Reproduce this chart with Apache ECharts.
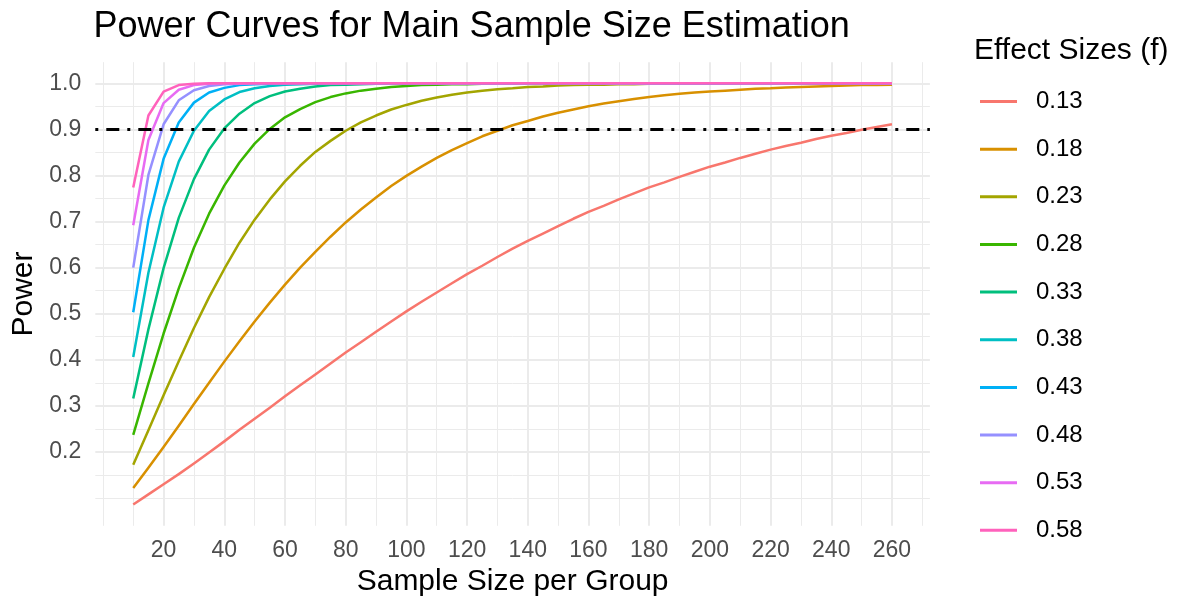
<!DOCTYPE html>
<html>
<head>
<meta charset="utf-8">
<script src="https://cdn.jsdelivr.net/npm/echarts@6/dist/echarts.min.js"></script>
<style>
html,body{margin:0;padding:0;background:#ffffff;}
#chart{width:1182px;height:604px;}
</style>
</head>
<body>
<div id="chart"></div>
<script>
// ---------------- data ----------------
const sampleSizes = [10,15,20,25,30,35,40,45,50,55,60,65,70,75,80,85,90,95,100,105,110,115,120,125,130,135,140,145,150,155,160,165,170,175,180,185,190,195,200,205,210,215,220,225,230,235,240,245,250,255,260];

const effectSizes = ['0.13','0.18','0.23','0.28','0.33','0.38','0.43','0.48','0.53','0.58'];

const power_013 = [0.086,0.108,0.130,0.152,0.175,0.199,0.223,0.248,0.272,0.296,0.321,0.345,0.368,0.392,0.416,0.438,0.461,0.483,0.505,0.526,0.546,0.566,0.586,0.604,0.623,0.641,0.658,0.674,0.690,0.706,0.721,0.734,0.748,0.761,0.774,0.785,0.797,0.808,0.819,0.828,0.838,0.847,0.856,0.864,0.871,0.879,0.886,0.892,0.899,0.905,0.911];
const power_018 = [0.122,0.166,0.211,0.257,0.304,0.350,0.396,0.440,0.483,0.524,0.563,0.600,0.634,0.667,0.698,0.726,0.752,0.777,0.799,0.819,0.838,0.855,0.870,0.885,0.897,0.909,0.918,0.928,0.936,0.943,0.950,0.956,0.961,0.966,0.970,0.974,0.977,0.980,0.982,0.984,0.986,0.988,0.989,0.991,0.992,0.993,0.994,0.995,0.996,0.996,0.997];
const power_023 = [0.172,0.247,0.323,0.397,0.469,0.536,0.597,0.654,0.704,0.748,0.787,0.821,0.851,0.875,0.897,0.915,0.930,0.943,0.953,0.962,0.969,0.975,0.980,0.984,0.987,0.989,0.992,0.993,0.995,0.996,0.997,0.997,0.998,0.998,0.999,0.999,0.999,0.999,1.000,1.000,1.000,1.000,1.000,1.000,1.000,1.000,1.000,1.000,1.000,1.000,1.000];
const power_028 = [0.237,0.349,0.457,0.555,0.643,0.717,0.778,0.828,0.869,0.901,0.926,0.944,0.959,0.970,0.978,0.984,0.988,0.992,0.994,0.996,0.997,0.998,0.998,0.999,0.999,0.999,1.000,1.000,1.000,1.000,1.000,1.000,1.000,1.000,1.000,1.000,1.000,1.000,1.000,1.000,1.000,1.000,1.000,1.000,1.000,1.000,1.000,1.000,1.000,1.000,1.000];
const power_033 = [0.316,0.466,0.599,0.708,0.792,0.856,0.902,0.934,0.957,0.972,0.982,0.988,0.993,0.996,0.997,0.998,0.999,0.999,1.000,1.000,1.000,1.000,1.000,1.000,1.000,1.000,1.000,1.000,1.000,1.000,1.000,1.000,1.000,1.000,1.000,1.000,1.000,1.000,1.000,1.000,1.000,1.000,1.000,1.000,1.000,1.000,1.000,1.000,1.000,1.000,1.000];
const power_038 = [0.406,0.589,0.730,0.830,0.897,0.940,0.965,0.981,0.989,0.994,0.997,0.998,0.999,1.000,1.000,1.000,1.000,1.000,1.000,1.000,1.000,1.000,1.000,1.000,1.000,1.000,1.000,1.000,1.000,1.000,1.000,1.000,1.000,1.000,1.000,1.000,1.000,1.000,1.000,1.000,1.000,1.000,1.000,1.000,1.000,1.000,1.000,1.000,1.000,1.000,1.000];
const power_043 = [0.503,0.703,0.836,0.915,0.958,0.980,0.990,0.996,0.998,0.999,1.000,1.000,1.000,1.000,1.000,1.000,1.000,1.000,1.000,1.000,1.000,1.000,1.000,1.000,1.000,1.000,1.000,1.000,1.000,1.000,1.000,1.000,1.000,1.000,1.000,1.000,1.000,1.000,1.000,1.000,1.000,1.000,1.000,1.000,1.000,1.000,1.000,1.000,1.000,1.000,1.000];
const power_048 = [0.600,0.801,0.911,0.963,0.985,0.994,0.998,0.999,1.000,1.000,1.000,1.000,1.000,1.000,1.000,1.000,1.000,1.000,1.000,1.000,1.000,1.000,1.000,1.000,1.000,1.000,1.000,1.000,1.000,1.000,1.000,1.000,1.000,1.000,1.000,1.000,1.000,1.000,1.000,1.000,1.000,1.000,1.000,1.000,1.000,1.000,1.000,1.000,1.000,1.000,1.000];
const power_053 = [0.692,0.877,0.957,0.986,0.996,0.999,1.000,1.000,1.000,1.000,1.000,1.000,1.000,1.000,1.000,1.000,1.000,1.000,1.000,1.000,1.000,1.000,1.000,1.000,1.000,1.000,1.000,1.000,1.000,1.000,1.000,1.000,1.000,1.000,1.000,1.000,1.000,1.000,1.000,1.000,1.000,1.000,1.000,1.000,1.000,1.000,1.000,1.000,1.000,1.000,1.000];
const power_058 = [0.774,0.930,0.982,0.996,0.999,1.000,1.000,1.000,1.000,1.000,1.000,1.000,1.000,1.000,1.000,1.000,1.000,1.000,1.000,1.000,1.000,1.000,1.000,1.000,1.000,1.000,1.000,1.000,1.000,1.000,1.000,1.000,1.000,1.000,1.000,1.000,1.000,1.000,1.000,1.000,1.000,1.000,1.000,1.000,1.000,1.000,1.000,1.000,1.000,1.000,1.000];

const powerBySeries = [power_013,power_018,power_023,power_028,power_033,power_038,power_043,power_048,power_053,power_058];

const xMajorTicks = [20,40,60,80,100,120,140,160,180,200,220,240,260];
const xMinorTicks = [0,10,30,50,70,90,110,130,150,170,190,210,230,250,270];
const yMajorTicks = [0.2,0.3,0.4,0.5,0.6,0.7,0.8,0.9,1.0];
const yMinorTicks = [0.1,0.15,0.25,0.35,0.45,0.55,0.65,0.75,0.85,0.95];
const targetPower = 0.9;

// ---------------- styling ----------------
const FONT = "'Liberation Sans', Arial, Helvetica, sans-serif";
const colors = ['#F8766D','#D89000','#A3A500','#39B600','#00BF7D','#00BFC4','#00B0F6','#9590FF','#E76BF3','#FF62BC'];
const GRID_COLOR = '#EBEBEB';

const gridLines = []
  .concat(xMinorTicks.map(v => ({xAxis: v, lineStyle: {color: GRID_COLOR, width: 1, type: 'solid'}})))
  .concat(yMinorTicks.map(v => ({yAxis: v, lineStyle: {color: GRID_COLOR, width: 1, type: 'solid'}})))
  .concat(xMajorTicks.map(v => ({xAxis: v, lineStyle: {color: GRID_COLOR, width: 2, type: 'solid'}})))
  .concat(yMajorTicks.map(v => ({yAxis: v, lineStyle: {color: GRID_COLOR, width: 2, type: 'solid'}})));

const curveSeries = effectSizes.map((f, i) => ({
  name: f,
  type: 'line',
  data: sampleSizes.map((n, j) => [n, powerBySeries[i][j]]),
  symbol: 'none',
  showSymbol: false,
  smooth: false,
  clip: true,
  z: 3,
  silent: true,
  color: colors[i],
  lineStyle: {width: 2.5, color: colors[i], join: 'round', cap: 'butt'},
  emphasis: {disabled: true}
}));

const chart = echarts.init(document.getElementById('chart'), null, {renderer: 'canvas'});

chart.setOption({
  animation: false,
  backgroundColor: '#ffffff',
  textStyle: {fontFamily: FONT},
  title: [
    {
      text: 'Power Curves for Main Sample Size Estimation',
      left: 93.5, top: 9, padding: 0,
      textStyle: {fontFamily: FONT, fontSize: 36, fontWeight: 'normal', color: '#000000', lineHeight: 36}
    },
    {
      text: 'Effect Sizes (f)',
      left: 974, top: 35.5, padding: 0,
      textStyle: {fontFamily: FONT, fontSize: 30, fontWeight: 'normal', color: '#000000', lineHeight: 30}
    }
  ],
  legend: {
    data: effectSizes,
    orient: 'vertical',
    left: 980, top: 89.5, padding: 0,
    icon: 'rect',
    itemWidth: 37, itemHeight: 3,
    itemGap: 23.65,
    selectedMode: false,
    textStyle: {fontFamily: FONT, fontSize: 24, lineHeight: 24, color: '#000000', padding: [0, 0, 0, 14]}
  },
  grid: {left: 95.3, right: 252.1, top: 62.2, bottom: 78.2, containLabel: false},
  xAxis: {
    type: 'value',
    min: -2.5, max: 272.5,
    name: 'Sample Size per Group',
    nameLocation: 'middle',
    nameGap: 40,
    nameTextStyle: {fontFamily: FONT, fontSize: 30, color: '#000000', lineHeight: 30},
    axisLine: {show: false},
    axisTick: {show: false},
    splitLine: {show: false},
    axisLabel: {
      customValues: xMajorTicks,
      fontFamily: FONT, fontSize: 23, lineHeight: 23, color: '#4D4D4D', margin: 13,
      formatter: v => String(Math.round(v))
    }
  },
  yAxis: {
    type: 'value',
    min: 0.0398, max: 1.0457,
    name: 'Power',
    nameLocation: 'middle',
    nameGap: 57,
    nameTextStyle: {fontFamily: FONT, fontSize: 30, color: '#000000', lineHeight: 30},
    axisLine: {show: false},
    axisTick: {show: false},
    splitLine: {show: false},
    axisLabel: {
      customValues: yMajorTicks,
      fontFamily: FONT, fontSize: 23, lineHeight: 23, color: '#4D4D4D', margin: 14,
      formatter: v => v.toFixed(1)
    }
  },
  series: [
    {
      type: 'line', data: [], z: 1, silent: true, symbol: 'none',
      markLine: {
        z: 1, silent: true, animation: false, symbol: ['none', 'none'],
        label: {show: false}, emphasis: {disabled: true},
        data: gridLines
      }
    }
  ].concat(curveSeries).concat([
    {
      type: 'line', data: [], z: 4, silent: true, symbol: 'none',
      markLine: {
        z: 4, silent: true, animation: false, symbol: ['none', 'none'],
        label: {show: false}, emphasis: {disabled: true},
        data: [{yAxis: targetPower, lineStyle: {color: '#000000', width: 2.8, type: [3, 8, 13, 8], cap: 'butt'}}]
      }
    }
  ])
});
</script>
</body>
</html>
